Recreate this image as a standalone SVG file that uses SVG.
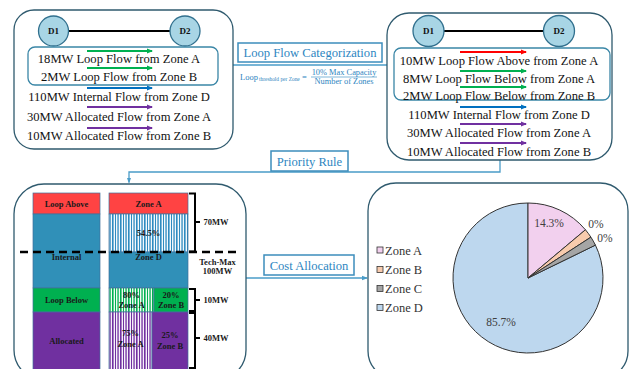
<svg xmlns="http://www.w3.org/2000/svg" width="629" height="369" viewBox="0 0 629 369">
<style>
.panel{fill:#fff;stroke:#2F5A6E;stroke-width:1.3}
.inner{fill:none;stroke:#3A86A6;stroke-width:1.3}
.node{fill:#A8D5E5;stroke:#31708E;stroke-width:1.3}
.t{font-family:"Liberation Serif","Times New Roman",serif;font-size:12.6px;fill:#111;text-anchor:middle}
.nd{font-family:"Liberation Serif","Times New Roman",serif;font-size:9px;font-weight:bold;fill:#111;text-anchor:middle}
.lbl{fill:#fff;stroke:#3C8DBC;stroke-width:1.5}
.lt{font-family:"Liberation Serif","Times New Roman",serif;font-size:12.6px;fill:#2E86C1;text-anchor:middle}
.f{font-family:"Liberation Serif","Times New Roman",serif;fill:#2E86C1}
.conn{fill:none;stroke:#4A9CC8;stroke-width:1.3}
.bar{stroke:#41719C;stroke-width:0.7}
.b{font-family:"Liberation Serif","Times New Roman",serif;font-size:8.5px;font-weight:bold;fill:#1a1a1a;text-anchor:middle}
.br{fill:none;stroke:#000;stroke-width:2}
.pie{stroke:#333;stroke-width:1}
.pl{font-family:"Liberation Serif","Times New Roman",serif;font-size:11.5px;fill:#404040;text-anchor:middle}
.lg{font-family:"Liberation Serif","Times New Roman",serif;font-size:12.5px;fill:#333}
.sq{stroke:#333;stroke-width:0.8}
</style>
<defs>
<marker id="aG" markerWidth="6" markerHeight="6" refX="5" refY="3" orient="auto" markerUnits="userSpaceOnUse"><path d="M0,0.5 L6,3 L0,5.5 Z" fill="#00B050"/></marker>
<marker id="aB" markerWidth="6" markerHeight="6" refX="5" refY="3" orient="auto" markerUnits="userSpaceOnUse"><path d="M0,0.5 L6,3 L0,5.5 Z" fill="#0070C0"/></marker>
<marker id="aP" markerWidth="6" markerHeight="6" refX="5" refY="3" orient="auto" markerUnits="userSpaceOnUse"><path d="M0,0.5 L6,3 L0,5.5 Z" fill="#7030A0"/></marker>
<marker id="aR" markerWidth="6" markerHeight="6" refX="5" refY="3" orient="auto" markerUnits="userSpaceOnUse"><path d="M0,0.5 L6,3 L0,5.5 Z" fill="#FF0000"/></marker>
<marker id="aC" markerWidth="6" markerHeight="6" refX="5" refY="3" orient="auto" markerUnits="userSpaceOnUse"><path d="M0,0.8 L6,3 L0,5.2 Z" fill="#4A9CC8"/></marker>
<pattern id="stB" width="8" height="10" patternUnits="userSpaceOnUse"><rect width="8" height="10" fill="#F2F8FC"/><rect x="0" width="1.6" height="10" fill="#2E8BC0"/><rect x="3" width="1" height="10" fill="#2E8BC0"/><rect x="5.4" width="1.3" height="10" fill="#2E8BC0"/></pattern>
<pattern id="stG" width="8" height="10" patternUnits="userSpaceOnUse"><rect width="8" height="10" fill="#EFFAF2"/><rect x="0" width="1.6" height="10" fill="#00B050"/><rect x="3" width="1" height="10" fill="#00B050"/><rect x="5.4" width="1.3" height="10" fill="#00B050"/></pattern>
<pattern id="stP" width="8" height="10" patternUnits="userSpaceOnUse"><rect width="8" height="10" fill="#F6F0FA"/><rect x="0" width="1.6" height="10" fill="#7030A0"/><rect x="3" width="1" height="10" fill="#7030A0"/><rect x="5.4" width="1.3" height="10" fill="#7030A0"/></pattern>
</defs>

<g id="connectors">
<line class="conn" x1="218" y1="65" x2="393" y2="65" marker-end="url(#aC)"/>
<path class="conn" d="M500,160 V172 H129 V182.5" marker-end="url(#aC)"/>
<line class="conn" x1="246" y1="278" x2="367" y2="278" marker-end="url(#aC)"/>
</g>

<g id="panel-before">
<rect class="panel" x="14" y="10" width="219" height="139" rx="20"/>
<line x1="68" y1="31" x2="170" y2="31" stroke="#000" stroke-width="2"/>
<circle class="node" cx="53.5" cy="31" r="15"/>
<circle class="node" cx="185" cy="31" r="15"/>
<text class="nd" x="53.5" y="34">D1</text>
<text class="nd" x="185" y="34">D2</text>
<rect class="inner" x="28" y="47" width="190" height="38" rx="7"/>
<line x1="87" y1="51" x2="152" y2="51" stroke="#00B050" stroke-width="1.8" marker-end="url(#aG)"/>
<line x1="87" y1="68" x2="152" y2="68" stroke="#00B050" stroke-width="1.8" marker-end="url(#aG)"/>
<line x1="87" y1="88" x2="152" y2="88" stroke="#0070C0" stroke-width="1.8" marker-end="url(#aB)"/>
<line x1="87" y1="107" x2="152" y2="107" stroke="#7030A0" stroke-width="1.8" marker-end="url(#aP)"/>
<line x1="87" y1="128" x2="152" y2="128" stroke="#7030A0" stroke-width="1.8" marker-end="url(#aP)"/>
<text class="t" x="119" y="63">18MW Loop Flow from Zone A</text>
<text class="t" x="119" y="81">2MW Loop Flow from Zone B</text>
<text class="t" x="119" y="101">110MW Internal Flow from Zone D</text>
<text class="t" x="119" y="120.5">30MW Allocated Flow from Zone A</text>
<text class="t" x="119" y="140">10MW Allocated Flow from Zone B</text>
</g>

<g id="label-categorization">
<rect class="lbl" x="238" y="43" width="144" height="19"/>
<text class="lt" x="310" y="57">Loop Flow Categorization</text>
<text class="f" x="240" y="79.5" font-size="8.5">Loop</text>
<text class="f" x="259" y="81" font-size="5.4">threshold per Zone</text>
<text class="f" x="302" y="79.5" font-size="8.5">=</text>
<line x1="311" y1="77" x2="377" y2="77" stroke="#2E86C1" stroke-width="0.6"/>
<text class="f" x="344" y="74.5" font-size="8.4" text-anchor="middle">10% Max Capacity</text>
<text class="f" x="344" y="84" font-size="8.4" text-anchor="middle">Number of Zones</text>
</g>

<g id="panel-after">
<rect class="panel" x="387" y="13" width="225" height="147" rx="22"/>
<line x1="444" y1="31" x2="543" y2="31" stroke="#000" stroke-width="2"/>
<circle class="node" cx="428.5" cy="31" r="15.5"/>
<circle class="node" cx="559" cy="31" r="15.5"/>
<text class="nd" x="428.5" y="34">D1</text>
<text class="nd" x="559" y="34">D2</text>
<rect class="inner" x="394" y="48" width="216" height="52" rx="7"/>
<line x1="460" y1="52" x2="526" y2="52" stroke="#FF0000" stroke-width="1.8" marker-end="url(#aR)"/>
<line x1="460" y1="71" x2="526" y2="71" stroke="#00B050" stroke-width="1.8" marker-end="url(#aG)"/>
<line x1="460" y1="87" x2="526" y2="87" stroke="#00B050" stroke-width="1.8" marker-end="url(#aG)"/>
<line x1="460" y1="107" x2="526" y2="107" stroke="#0070C0" stroke-width="1.8" marker-end="url(#aB)"/>
<line x1="460" y1="124" x2="526" y2="124" stroke="#7030A0" stroke-width="1.8" marker-end="url(#aP)"/>
<line x1="460" y1="143" x2="526" y2="143" stroke="#7030A0" stroke-width="1.8" marker-end="url(#aP)"/>
<text class="t" x="499" y="64.5">10MW Loop Flow Above from Zone A</text>
<text class="t" x="499" y="82.5">8MW Loop Flow Below from Zone A</text>
<text class="t" x="499" y="99.5">2MW Loop Flow Below from Zone B</text>
<text class="t" x="499" y="118.5">110MW Internal Flow from Zone D</text>
<text class="t" x="499" y="137">30MW Allocated Flow from Zone A</text>
<text class="t" x="499" y="155.5">10MW Allocated Flow from Zone B</text>
</g>

<g id="label-priority">
<rect class="lbl" x="271" y="151" width="77" height="20"/>
<text class="lt" x="309.5" y="165.5">Priority Rule</text>
</g>

<g id="panel-priority">
<rect class="panel" x="14" y="184" width="232" height="196" rx="30"/>
<rect class="bar" x="33" y="193" width="67" height="21" fill="#FF4343"/>
<rect class="bar" x="33" y="214" width="67" height="74" fill="#3090B8"/>
<rect class="bar" x="33" y="288" width="67" height="24" fill="#00B050"/>
<rect class="bar" x="33" y="312" width="67" height="70" fill="#7030A0"/>
<rect class="bar" x="109" y="193" width="79" height="21" fill="#FF4343"/>
<rect class="bar" x="109" y="214" width="79" height="38" fill="url(#stB)"/>
<rect class="bar" x="109" y="252" width="79" height="36" fill="#3090B8"/>
<rect class="bar" x="109" y="288" width="45" height="24" fill="url(#stG)"/>
<rect class="bar" x="154" y="288" width="34" height="24" fill="#00B050"/>
<rect class="bar" x="109" y="312" width="43" height="70" fill="url(#stP)"/>
<rect class="bar" x="152" y="312" width="36" height="70" fill="#7030A0"/>
<text class="b" x="66.5" y="207">Loop Above</text>
<text class="b" x="66.5" y="260">Internal</text>
<text class="b" x="66.5" y="303">Loop Below</text>
<text class="b" x="66.5" y="344">Allocated</text>
<text class="b" x="148.5" y="207">Zone A</text>
<text class="b" x="148.5" y="236">54.5%</text>
<text class="b" x="148.5" y="260">Zone D</text>
<text class="b" x="131.5" y="298">80%</text>
<text class="b" x="131.5" y="308">Zone A</text>
<text class="b" x="171" y="298">20%</text>
<text class="b" x="171" y="308">Zone B</text>
<text class="b" x="130.5" y="336">75%</text>
<text class="b" x="130.5" y="347">Zone A</text>
<text class="b" x="170" y="338">25%</text>
<text class="b" x="170" y="349">Zone B</text>
<line x1="20" y1="252" x2="237" y2="252" stroke="#000" stroke-width="2.5" stroke-dasharray="8,5"/>
<path class="br" d="M189,193.5 H195 V251.5 H189 M195,222 H200"/>
<path class="br" d="M189,289 H195 V311 H189 M195,300 H200"/>
<path class="br" d="M189,313 H195 V368 H189 M195,338 H200"/>
<text class="b" x="216" y="225">70MW</text>
<text class="b" x="217.5" y="264.5">Tech-Max</text>
<text class="b" x="217.5" y="274">100MW</text>
<text class="b" x="216" y="303">10MW</text>
<text class="b" x="216" y="341">40MW</text>
</g>

<g id="label-cost">
<rect class="lbl" x="264" y="255" width="90" height="20"/>
<text class="lt" x="309" y="269.5">Cost Allocation</text>
</g>

<g id="panel-cost">
<rect class="panel" x="368" y="183" width="260" height="196" rx="28"/>
<path class="pie" fill="#BDD7EE" d="M528,278 L595.41,245.12 A75,75 0 1,1 528,203 Z"/>
<path class="pie" fill="#F2D0EE" d="M528,278 L528,203 A75,75 0 0,1 585.45,229.79 Z"/>
<path class="pie" fill="#F8CBAD" d="M528,278 L585.45,229.79 A75,75 0 0,1 590.90,237.15 Z"/>
<path class="pie" fill="#A5A5A5" d="M528,278 L590.90,237.15 A75,75 0 0,1 595.41,245.12 Z"/>
<text class="pl" x="549" y="227">14.3%</text>
<text class="pl" x="596" y="228">0%</text>
<text class="pl" x="605" y="242">0%</text>
<text class="pl" x="501" y="326">85.7%</text>
<rect class="sq" x="377" y="247" width="6" height="6" fill="#F2D0EE"/>
<rect class="sq" x="377" y="266.5" width="6" height="6" fill="#F8CBAD"/>
<rect class="sq" x="377" y="285.5" width="6" height="6" fill="#A5A5A5"/>
<rect class="sq" x="377" y="304.5" width="6" height="6" fill="#BDD7EE"/>
<text class="lg" x="385" y="254.5">Zone A</text>
<text class="lg" x="385" y="274">Zone B</text>
<text class="lg" x="385" y="293">Zone C</text>
<text class="lg" x="385" y="312">Zone D</text>
</g>
</svg>
